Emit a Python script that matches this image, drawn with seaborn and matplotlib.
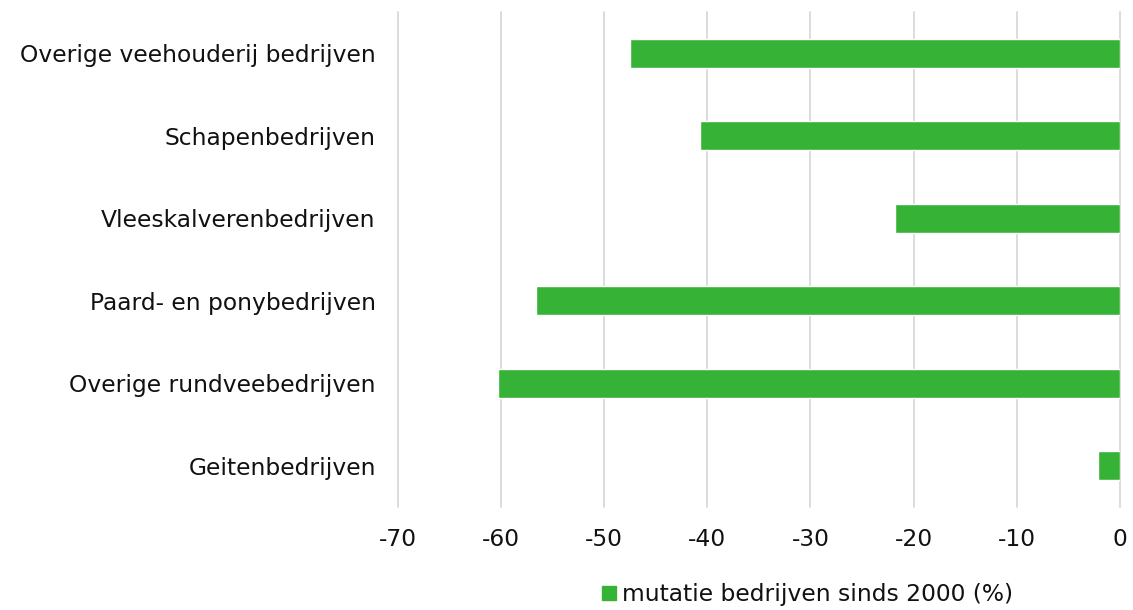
import matplotlib
matplotlib.use("Agg")
import matplotlib.pyplot as plt
import seaborn as sns
import pandas as pd
from matplotlib.patches import Patch

categories = ["Overige veehouderij bedrijven", "Schapenbedrijven", "Vleeskalverenbedrijven",
              "Paard- en ponybedrijven", "Overige rundveebedrijven", "Geitenbedrijven"]
values = [-47.5, -40.7, -21.8, -56.6, -60.3, -2.1]
series_name = "mutatie bedrijven sinds 2000 (%)"
xticks = [-70, -60, -50, -40, -30, -20, -10, 0]

df = pd.DataFrame({"cat": categories, "val": values})

sns.set_theme(style="white")
plt.rcParams['font.family'] = ['DejaVu Sans']

fig = plt.figure(figsize=(11.33, 6.10), dpi=100)
ax = fig.add_axes([0.3513, 0.1689, 0.6370, 0.8114])
color = "#36B336"
sns.barplot(data=df, x="val", y="cat", orient="h", color=color, width=0.35,
            saturation=1, ax=ax, zorder=3)
ax.set_xlim(-70, 0)
ax.set_ylim(5.5, -0.5)
ax.set_xticks(xticks)
ax.set_xticklabels([str(t) for t in xticks])
ax.xaxis.grid(True, color="#d9d9d9", linewidth=1.3, zorder=0)
ax.set_axisbelow(True)
ax.yaxis.grid(False)
for gl in ax.get_xgridlines():
    gl.set_clip_on(False)
for s in ax.spines.values():
    s.set_visible(False)
ax.set_xlabel("")
ax.set_ylabel("")
ax.tick_params(axis="y", length=0, pad=16, labelsize=16.8, labelcolor="#111111")
ax.tick_params(axis="x", length=0, pad=15, labelsize=16.8, labelcolor="#111111")

handles = [Patch(facecolor=color, edgecolor=color, label=series_name)]
fig.legend(handles=handles, loc="center", bbox_to_anchor=(0.713, 0.025), frameon=False,
           fontsize=16.8, handlelength=0.6, handleheight=0.6, handletextpad=0.25,
           labelcolor="#111111")

fig.savefig("out.png", dpi=100)
